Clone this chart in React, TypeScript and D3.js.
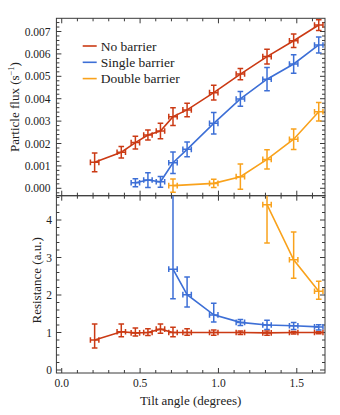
import React, { useEffect, useRef } from 'react';
import * as d3 from 'd3';

// tilt angles (degrees)
const tiltAll = [0.21, 0.38, 0.47, 0.55, 0.63, 0.71, 0.80, 0.97, 1.14, 1.31, 1.48, 1.64];
const tiltSingle = [0.47, 0.55, 0.63, 0.71, 0.80, 0.97, 1.14, 1.31, 1.48, 1.64];
const tiltDouble = [0.71, 0.97, 1.14, 1.31, 1.48, 1.64];
const tiltResSingle = [0.71, 0.80, 0.97, 1.14, 1.31, 1.48, 1.64];
const tiltResDouble = [1.31, 1.48, 1.64];
const tiltErr = 0.027;

// particle flux (s^-1)
const fluxNo = [0.00116, 0.00161, 0.00204, 0.00238, 0.00256, 0.0032, 0.0035, 0.00427, 0.0051, 0.00588, 0.00659, 0.00729];
const fluxNoErr = [0.00042, 0.00026, 0.00028, 0.00022, 0.00035, 0.0004, 0.0003, 0.00033, 0.00025, 0.00033, 0.0003, 0.00024];
const fluxSingle = [0.00025, 0.00037, 0.00029, 0.00114, 0.00174, 0.0029, 0.00399, 0.00487, 0.00555, 0.0064];
const fluxSingleErr = [0.00018, 0.00033, 0.00024, 0.00048, 0.00033, 0.00048, 0.00033, 0.00052, 0.00041, 0.00036];
const fluxDouble = [0.00012, 0.00022, 0.00052, 0.00129, 0.00219, 0.00342];
const fluxDoubleErr = [0.0003, 0.00018, 0.00056, 0.00043, 0.00046, 0.00041];

// resistance (a.u.), with lower / upper error limits
const resNo = [0.80, 1.02, 0.99, 1.00, 1.09, 1.00, 1.00, 1.00, 1.00, 0.99, 1.00, 1.00];
const resNoLow = [0.59, 0.89, 0.91, 0.92, 0.98, 0.89, 0.93, 0.93, 0.95, 0.93, 0.96, 0.97];
const resNoHigh = [1.23, 1.23, 1.12, 1.10, 1.23, 1.14, 1.10, 1.07, 1.04, 1.04, 1.03, 1.02];
const resSingle = [2.69, 2.01, 1.47, 1.27, 1.20, 1.18, 1.15];
const resSingleLow = [1.90, 1.68, 1.28, 1.19, 1.08, 1.08, 1.07];
const resSingleHigh = [6.0, 2.48, 1.78, 1.35, 1.33, 1.27, 1.21];
const resDouble = [4.41, 2.94, 2.10];
const resDoubleLow = [3.39, 2.45, 1.89];
const resDoubleHigh = [6.0, 3.68, 2.37];

const legendLabels = ['No barrier', 'Single barrier', 'Double barrier'];
const colors = ['#cb3a14', '#3d6fd6', '#f9a21c'];

const xTicks = [0, 0.5, 1.0, 1.5];
const fluxTicks = [0, 0.001, 0.002, 0.003, 0.004, 0.005, 0.006, 0.007];
const resTicks = [0, 1, 2, 3, 4];

type Pt = { x: number; y: number; lo: number; hi: number };

export default function App() {
  const svgRef = useRef<SVGSVGElement>(null);

  useEffect(() => {
    const svg = d3.select(svgRef.current);
    svg.selectAll('*').remove();

    const left = 56.4, right = 325;
    const topY0 = 18.3, mid = 195.7, bottomY = 373;
    const font = '"Liberation Serif", "DejaVu Serif", serif';
    const frameColor = '#3a3a3a';

    const x = d3.scaleLinear().domain([-0.034, 1.68]).range([left, right]);
    const yFlux = d3.scaleLinear().domain([-0.00033, 0.00759]).range([mid, topY0]);
    const yRes = d3.scaleLinear().domain([-0.08, 4.648]).range([bottomY, mid]);

    const defs = svg.append('defs');
    defs.append('clipPath').attr('id', 'clipTop')
      .append('rect').attr('x', left).attr('y', topY0).attr('width', right - left).attr('height', mid - topY0);
    defs.append('clipPath').attr('id', 'clipBottom')
      .append('rect').attr('x', left).attr('y', mid).attr('width', right - left).attr('height', bottomY - mid);

    // frame with inward ticks on all sides
    const drawFrame = (y: d3.ScaleLinear<number, number>, yMajor: number[], yMinorStep: number, yTop: number, yBot: number) => {
      const g = svg.append('g');
      g.append('rect')
        .attr('x', left).attr('y', yTop).attr('width', right - left).attr('height', yBot - yTop)
        .attr('fill', 'none').attr('stroke', frameColor).attr('stroke-width', 1);

      const xMinor = d3.range(0, 1.7, 0.1).filter(v => x(v) > left && x(v) < right);
      xMinor.forEach(v => {
        const isMajor = Math.abs(v * 2 - Math.round(v * 2)) < 1e-6;
        const len = isMajor ? 5 : 3;
        const px = x(v);
        g.append('line').attr('x1', px).attr('x2', px).attr('y1', yBot).attr('y2', yBot - len)
          .attr('stroke', frameColor).attr('stroke-width', 1);
        g.append('line').attr('x1', px).attr('x2', px).attr('y1', yTop).attr('y2', yTop + len)
          .attr('stroke', frameColor).attr('stroke-width', 1);
      });

      const [d0, d1] = y.domain();
      const yMinor = d3.range(Math.ceil(d0 / yMinorStep) * yMinorStep, d1, yMinorStep);
      yMinor.forEach(v => {
        const isMajor = yMajor.some(m => Math.abs(m - v) < yMinorStep / 10);
        const len = isMajor ? 5 : 3;
        const py = y(v);
        if (py <= yTop + 0.5 || py >= yBot - 0.5) return;
        g.append('line').attr('x1', left).attr('x2', left + len).attr('y1', py).attr('y2', py)
          .attr('stroke', frameColor).attr('stroke-width', 1);
        g.append('line').attr('x1', right).attr('x2', right - len).attr('y1', py).attr('y2', py)
          .attr('stroke', frameColor).attr('stroke-width', 1);
      });
    };

    drawFrame(yFlux, fluxTicks, 0.0002, topY0, mid);
    drawFrame(yRes, resTicks, 0.2, mid, bottomY);

    // tick labels
    svg.append('g').selectAll('text').data(fluxTicks).join('text')
      .attr('x', 50.5).attr('y', d => yFlux(d)).attr('dy', '0.35em')
      .attr('text-anchor', 'end').attr('font-family', font).attr('font-size', 11.5).attr('fill', '#222')
      .text(d => d3.format('.3f')(d));

    svg.append('g').selectAll('text').data(resTicks).join('text')
      .attr('x', 52).attr('y', d => yRes(d)).attr('dy', '0.35em')
      .attr('text-anchor', 'end').attr('font-family', font).attr('font-size', 11.5).attr('fill', '#222')
      .text(d => String(d));

    svg.append('g').selectAll('text').data(xTicks).join('text')
      .attr('x', d => x(d)).attr('y', 387)
      .attr('text-anchor', 'middle').attr('font-family', font).attr('font-size', 11.5).attr('fill', '#222')
      .text(d => d3.format('.1f')(d));

    // axis titles
    const fluxTitle = svg.append('text')
      .attr('transform', `translate(19, ${(topY0 + mid) / 2}) rotate(-90)`)
      .attr('text-anchor', 'middle').attr('font-family', font).attr('font-size', 13).attr('fill', '#222');
    fluxTitle.append('tspan').text('Particle flux (s');
    fluxTitle.append('tspan').attr('dy', -5).attr('font-size', 8.5).text('\u22121');
    fluxTitle.append('tspan').attr('dy', 5).text(')');

    svg.append('text')
      .attr('transform', `translate(41, ${(mid + bottomY) / 2 - 4}) rotate(-90)`)
      .attr('text-anchor', 'middle').attr('font-family', font).attr('font-size', 13).attr('fill', '#222')
      .text('Resistance (a.u.)');

    svg.append('text')
      .attr('x', (left + right) / 2).attr('y', 405)
      .attr('text-anchor', 'middle').attr('font-family', font).attr('font-size', 13).attr('fill', '#222')
      .text('Tilt angle (degrees)');

    // series with crossed error bars
    const drawSeries = (pts: Pt[], y: d3.ScaleLinear<number, number>, color: string, clip: string) => {
      const g = svg.append('g').attr('clip-path', `url(#${clip})`);
      const line = d3.line<Pt>().x(d => x(d.x)).y(d => y(d.y));
      g.append('path').datum(pts).attr('d', line)
        .attr('fill', 'none').attr('stroke', color).attr('stroke-width', 1.6);
      pts.forEach(d => {
        const px = x(d.x), py = y(d.y);
        const yl = y(d.lo), yh = y(d.hi);
        const xl = x(d.x - tiltErr), xh = x(d.x + tiltErr);
        const cap = 2.8;
        const seg = (x1: number, y1: number, x2: number, y2: number, w = 1.5) =>
          g.append('line').attr('x1', x1).attr('y1', y1).attr('x2', x2).attr('y2', y2)
            .attr('stroke', color).attr('stroke-width', w);
        seg(px, yl, px, yh);
        seg(px - cap, yl, px + cap, yl);
        seg(px - cap, yh, px + cap, yh);
        seg(xl, py, xh, py);
        seg(xl, py - cap, xl, py + cap);
        seg(xh, py - cap, xh, py + cap);
      });
    };

    const sym = (xs: number[], ys: number[], es: number[]): Pt[] =>
      xs.map((v, i) => ({ x: v, y: ys[i], lo: ys[i] - es[i], hi: ys[i] + es[i] }));
    const asym = (xs: number[], ys: number[], lo: number[], hi: number[]): Pt[] =>
      xs.map((v, i) => ({ x: v, y: ys[i], lo: lo[i], hi: hi[i] }));

    drawSeries(sym(tiltDouble, fluxDouble, fluxDoubleErr), yFlux, colors[2], 'clipTop');
    drawSeries(sym(tiltSingle, fluxSingle, fluxSingleErr), yFlux, colors[1], 'clipTop');
    drawSeries(sym(tiltAll, fluxNo, fluxNoErr), yFlux, colors[0], 'clipTop');

    drawSeries(asym(tiltResDouble, resDouble, resDoubleLow, resDoubleHigh), yRes, colors[2], 'clipBottom');
    drawSeries(asym(tiltResSingle, resSingle, resSingleLow, resSingleHigh), yRes, colors[1], 'clipBottom');
    drawSeries(asym(tiltAll, resNo, resNoLow, resNoHigh), yRes, colors[0], 'clipBottom');

    // legend
    const legend = svg.append('g').attr('transform', 'translate(82.7, 46)');
    legendLabels.forEach((label, i) => {
      const row = legend.append('g').attr('transform', `translate(0, ${i * 16.3})`);
      row.append('line').attr('x1', 0).attr('x2', 14).attr('y1', 0).attr('y2', 0)
        .attr('stroke', colors[i]).attr('stroke-width', 1.6);
      row.append('text').attr('x', 18).attr('y', 0).attr('dy', '0.35em')
        .attr('font-family', font).attr('font-size', 13.5).attr('fill', '#222')
        .text(label);
    });
  }, []);

  return (
    <svg
      ref={svgRef}
      width={340}
      height={415}
      style={{ position: 'absolute', left: 0, top: 0, background: '#fff' }}
    />
  );
}
